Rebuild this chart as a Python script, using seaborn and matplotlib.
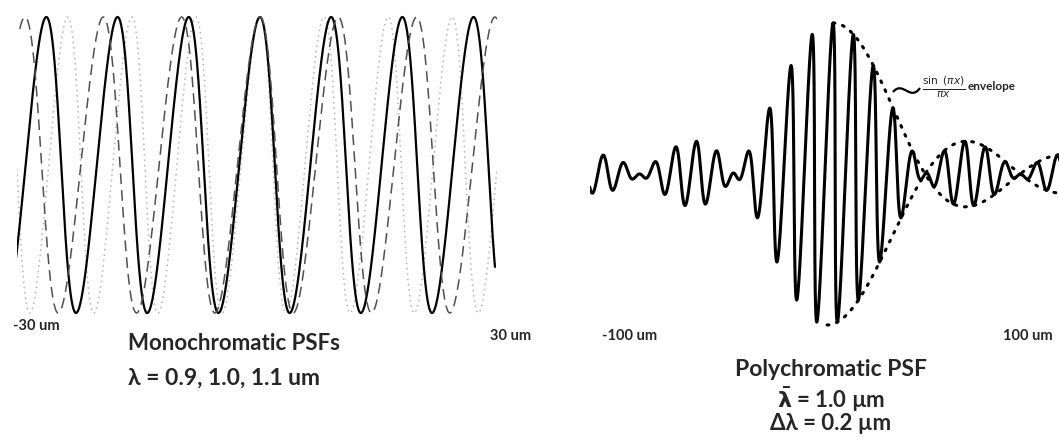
import numpy as np
import pandas as pd
import matplotlib
matplotlib.use('Agg')
import matplotlib.pyplot as plt
import matplotlib.transforms as mtransforms
from matplotlib.path import Path
from matplotlib.patches import PathPatch
import seaborn as sns

# values
wavelengths = [0.9, 1.0, 1.1]          # um, monochromatic PSFs
mono_styles = [(0, (1, 2.5)), '-', (0, (7, 4))]
mono_colors = ['#b4b4b4', 'black', '#505050']
mono_widths = [1.1, 1.6, 1.1]
fringe_period = 8.9                    # um of fringe per um of wavelength
mono_range = [-30, 30]                 # um
mono_labels = ['-30 um', '30 um']

poly_mean_wl = 1.0                     # um
poly_bandwidth = 0.2                   # um
poly_period = 8.6                      # um, fringe spacing of the polychromatic PSF
poly_first_zero = 39.6                 # um, first zero of the sinc envelope
poly_range = [-100, 100]               # um
poly_labels = ['-100 um', '100 um']

shear = 0.02   # chart-recorder lean of the traces

sns.set_style('white')
plt.rcParams['font.family'] = ['Lato', 'DejaVu Sans']
plt.rcParams['mathtext.fontset'] = 'dejavusans'

fig = plt.figure(figsize=(10.59, 4.45), dpi=100)
W, H = 1059, 445
ax1 = fig.add_axes([17 / W, (H - 320) / H, 480 / W, 310 / H])
ax2 = fig.add_axes([590 / W, (H - 332) / H, 469 / W, 316 / H])
ax1.set_xlim(mono_range)
ax1.set_ylim(-7 / 296, 1 + 7 / 296)
ax2.set_xlim(poly_range[0], 95.4)
ax2.set_ylim(-7 / 302, 1 + 7 / 302)


def lean(ax):
    yc = ax.transData.transform((0, 0.5))[1]
    sk = mtransforms.Affine2D().translate(0, -yc).skew(np.arctan(shear), 0).translate(0, yc)
    return ax.transData + sk


# monochromatic fringes
x1 = np.linspace(mono_range[0], mono_range[1], 2000)
rows = []
for wl in wavelengths:
    inten = np.cos(np.pi * x1 / (fringe_period * wl)) ** 2
    rows.append(pd.DataFrame({'x': x1, 'I': inten, 'wl': wl}))
mono = pd.concat(rows)

for wl, ls, c, lw in zip(wavelengths, mono_styles, mono_colors, mono_widths):
    d = mono[mono.wl == wl]
    sns.lineplot(data=d, x='x', y='I', ax=ax1, color=c, linestyle=ls, lw=lw,
                 estimator=None, sort=False)
    ax1.lines[-1].set_transform(lean(ax1))

# polychromatic fringe packet
x2 = np.linspace(poly_range[0], poly_range[1], 4000)
env = np.sinc(x2 / poly_first_zero)
poly = pd.DataFrame({'x': x2, 'I': 0.5 + 0.5 * env * np.cos(2 * np.pi * x2 / poly_period),
                     'up': 0.5 + 0.5 * env, 'lo': 0.5 - 0.5 * env})
sns.lineplot(data=poly, x='x', y='I', ax=ax2, color='black', lw=2.2, estimator=None, sort=False)
ax2.lines[-1].set_transform(lean(ax2))
right = poly[poly.x >= 0]
for col in ['up', 'lo']:
    sns.lineplot(data=right, x='x', y=col, ax=ax2, color='black', lw=2.2,
                 linestyle=(0, (0.6, 2.6)), dash_capstyle='round',
                 estimator=None, sort=False)
    ax2.lines[-1].set_transform(lean(ax2))

for ax in (ax1, ax2):
    ax.set_axis_off()
    ax.set_xlabel('')
    ax.set_ylabel('')

# text
def ftext(px, py, s, **kw):
    fig.text(px / W, 1 - py / H, s, fontweight='bold', va='center', **kw)

ftext(13, 326, mono_labels[0], fontsize=10.5)
ftext(490, 336, mono_labels[1], fontsize=10.5)
ftext(602, 336, poly_labels[0], fontsize=10.5)
ftext(1003, 336, poly_labels[1], fontsize=10.5)

ftext(128, 344, 'Monochromatic PSFs', fontsize=16)
ftext(128, 378, 'λ = ' + ', '.join(f'{w:.1f}' for w in wavelengths) + ' um', fontsize=16.5)
ftext(831, 370, 'Polychromatic PSF', fontsize=16.5, ha='center')
ftext(831, 400, r'$\mathbf{\bar{\lambda}}$' + f' = {poly_mean_wl:.1f} µm', fontsize=16, ha='center')
ftext(831, 423, 'Δλ = ' + f'{poly_bandwidth:.1f} µm', fontsize=16, ha='center')

# envelope note with squiggly leader
ftext(922, 87, r'$\frac{\sin\ (\pi x)}{\pi x}$', fontsize=11)
ftext(968, 87, 'envelope', fontsize=8.5)
verts = [(893 / W, 1 - 92 / H), (903 / W, 1 - 80 / H), (910 / W, 1 - 102 / H), (920 / W, 1 - 88 / H)]
fig.add_artist(PathPatch(Path(verts, [Path.MOVETO, Path.CURVE4, Path.CURVE4, Path.CURVE4]),
                         transform=fig.transFigure, fill=False, lw=1.6, color='black'))

fig.savefig('out.png', dpi=100)
